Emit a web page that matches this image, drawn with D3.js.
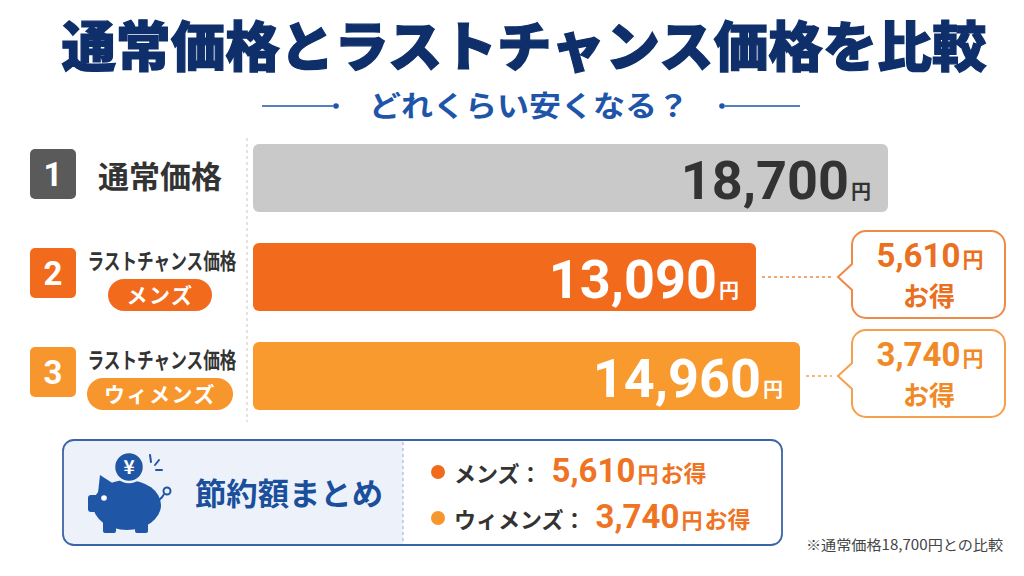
<!DOCTYPE html>
<html><head><meta charset="utf-8">
<script src="https://cdn.jsdelivr.net/npm/d3@7"></script>
<style>
html,body{margin:0;padding:0;background:#fff;}
svg{display:block;}
</style></head>
<body>
<svg id="chart" width="1024" height="576"></svg>
<script>
// ---- data ----
const ids = ["1", "2", "3"];
const categories = ["通常価格", "ラストチャンス価格", "ラストチャンス価格"];
const tags = [null, "メンズ", "ウィメンズ"];
const prices = [18700, 13090, 14960];
const savings = [null, 5610, 3740];
const summaryLabels = ["メンズ：", "ウィメンズ："];
const summaryValues = [5610, 3740];
const titleText = "通常価格とラストチャンス価格を比較";
const subtitleText = "どれくらい安くなる？";
const summaryTitle = "節約額まとめ";
const footnote = "※通常価格18,700円との比較";
const yenUnit = "円";
const gainText = "お得";

// ---- styles ----
const JP = "'Noto Sans CJK JP','Noto Sans',sans-serif";
const NUM = "Roboto,'Noto Sans',sans-serif";
const barColors = ["#c9c9c9", "#f26b1d", "#f89a2e"];
const badgeColors = ["#5a5a5a", "#f26b1d", "#f7962c"];
const labelColors = ["#333333", "#ffffff", "#ffffff"];
const calloutText = [null, "#ea6f1f", "#f08a26"];
const calloutStroke = [null, "#ef8a45", "#f5a04a"];
const fmt = d3.format(",");

const svg = d3.select("#chart");
svg.append("rect").attr("width", 1024).attr("height", 576).attr("fill", "#ffffff");

// ---- title ----
svg.append("text").attr("x", 524).attr("y", 67).attr("text-anchor", "middle")
  .attr("font-family", JP).attr("font-weight", 900).attr("font-size", 54)
  .attr("fill", "#0f2f6b").attr("stroke", "#0f2f6b").attr("stroke-width", 1.2)
  .attr("textLength", 925).attr("lengthAdjust", "spacingAndGlyphs")
  .text(titleText);

svg.append("text").attr("x", 529).attr("y", 117).attr("text-anchor", "middle")
  .attr("font-family", JP).attr("font-weight", 700).attr("font-size", 29)
  .attr("fill", "#1f55a8").attr("textLength", 320).attr("lengthAdjust", "spacingAndGlyphs")
  .text(subtitleText);
[[262, 333, 336], [800, 725, 722]].forEach(([a, b, d]) => {
  svg.append("line").attr("x1", a).attr("x2", b).attr("y1", 106).attr("y2", 106)
    .attr("stroke", "#1f55a8").attr("stroke-width", 1.5);
  svg.append("circle").attr("cx", d).attr("cy", 106).attr("r", 2.8).attr("fill", "#1f55a8");
});

// ---- scales ----
const y = d3.scalePoint().domain(ids).range([178, 376]);
const x = d3.scaleLinear().domain([0, d3.max(prices)]).range([448, 888]);
const barStart = 253, barH = 68;

// divider
svg.append("line").attr("x1", 247).attr("x2", 247).attr("y1", 138).attr("y2", 422)
  .attr("stroke", "#c8c8c8").attr("stroke-width", 1).attr("stroke-dasharray", "3,3");

const rows = ids.map((id, i) => ({id, i, cat: categories[i], tag: tags[i], price: prices[i], save: savings[i]}));

const g = svg.append("g");
const row = g.selectAll("g.row").data(rows).join("g").attr("class", "row");

// badges
row.append("rect").attr("x", 30).attr("y", d => y(d.id) - 29).attr("width", 46).attr("height", 50)
  .attr("rx", 5).attr("fill", d => badgeColors[d.i]);
row.append("text").attr("x", 53).attr("y", d => y(d.id) + 8).attr("text-anchor", "middle")
  .attr("font-family", NUM).attr("font-weight", 700).attr("font-size", 33).attr("fill", "#fff")
  .text(d => d.id);

// category labels
row.filter(d => !d.tag).append("text").attr("x", 98).attr("y", d => y(d.id) + 10)
  .attr("font-family", JP).attr("font-weight", 700).attr("font-size", 31).attr("fill", "#333")
  .attr("textLength", 124).attr("lengthAdjust", "spacingAndGlyphs").text(d => d.cat);
const tagged = row.filter(d => d.tag);
tagged.append("text").attr("x", 162).attr("y", d => y(d.id) - 8).attr("text-anchor", "middle")
  .attr("font-family", JP).attr("font-weight", 700).attr("font-size", 22).attr("fill", "#333")
  .attr("textLength", 149).attr("lengthAdjust", "spacingAndGlyphs").text(d => d.cat);
const pillW = d => d.tag.length * 21 + 41;
tagged.append("rect").attr("x", d => 160 - pillW(d) / 2).attr("y", d => y(d.id) + 2)
  .attr("width", pillW).attr("height", 32).attr("rx", 16).attr("fill", d => badgeColors[d.i]);
tagged.append("text").attr("x", 160).attr("y", d => y(d.id) + 26).attr("text-anchor", "middle")
  .attr("font-family", JP).attr("font-weight", 700).attr("font-size", 21).attr("fill", "#fff")
  .attr("letter-spacing", 1.5).text(d => d.tag);

// bars
row.append("rect").attr("x", barStart).attr("y", d => y(d.id) - barH / 2)
  .attr("width", d => x(d.price) - barStart).attr("height", barH).attr("rx", 6)
  .attr("fill", d => barColors[d.i]);
const vl = row.append("text").attr("x", d => x(d.price) - 17).attr("y", d => y(d.id) + 21)
  .attr("text-anchor", "end").attr("fill", d => labelColors[d.i]);
vl.append("tspan").attr("font-family", NUM).attr("font-weight", 700).attr("font-size", 54)
  .text(d => fmt(d.price));
vl.append("tspan").attr("font-family", JP).attr("font-weight", 700).attr("font-size", 20).attr("dx", 2)
  .text(yenUnit);

// callouts
const saved = row.filter(d => d.save);
saved.append("line").attr("x1", d => x(d.price) + 6).attr("x2", 832)
  .attr("y1", d => y(d.id)).attr("y2", d => y(d.id))
  .attr("stroke", d => calloutStroke[d.i]).attr("stroke-width", 1.5).attr("stroke-dasharray", "3,3");
function calloutPath(cy) {
  const l = 852, r = 1005, t = cy - 46, b = cy + 41, rr = 14;
  const p = d3.path();
  p.moveTo(l + rr, t);
  p.lineTo(r - rr, t); p.arcTo(r, t, r, t + rr, rr);
  p.lineTo(r, b - rr); p.arcTo(r, b, r - rr, b, rr);
  p.lineTo(l + rr, b); p.arcTo(l, b, l, b - rr, rr);
  p.lineTo(l, cy + 13); p.lineTo(l - 14, cy); p.lineTo(l, cy - 13);
  p.lineTo(l, t + rr); p.arcTo(l, t, l + rr, t, rr);
  p.closePath();
  return p.toString();
}
saved.append("path").attr("d", d => calloutPath(y(d.id))).attr("fill", "#fff")
  .attr("stroke", d => calloutStroke[d.i]).attr("stroke-width", 2);
const ct = saved.append("text").attr("x", 930).attr("y", d => y(d.id) - 10).attr("text-anchor", "middle")
  .attr("fill", d => calloutText[d.i]);
ct.append("tspan").attr("font-family", NUM).attr("font-weight", 700).attr("font-size", 33).text(d => fmt(d.save));
ct.append("tspan").attr("font-family", JP).attr("font-weight", 700).attr("font-size", 21).attr("dx", 2).text(yenUnit);
saved.append("text").attr("x", 929).attr("y", d => y(d.id) + 29).attr("text-anchor", "middle")
  .attr("font-family", JP).attr("font-weight", 700).attr("font-size", 26)
  .attr("fill", d => calloutText[d.i]).text(gainText);

// ---- summary box ----
const bx = 63, by = 440, bw = 719, bh = 105, div = 403;
svg.append("clipPath").attr("id", "boxclip").append("rect")
  .attr("x", bx).attr("y", by).attr("width", bw).attr("height", bh).attr("rx", 11);
svg.append("rect").attr("x", bx).attr("y", by).attr("width", bw).attr("height", bh).attr("rx", 11).attr("fill", "#fff");
svg.append("rect").attr("x", bx).attr("y", by).attr("width", div - bx).attr("height", bh)
  .attr("fill", "#edf2fa").attr("clip-path", "url(#boxclip)");
svg.append("line").attr("x1", div).attr("x2", div).attr("y1", by + 2).attr("y2", by + bh - 2)
  .attr("stroke", "#9aaac4").attr("stroke-width", 1).attr("stroke-dasharray", "3,3");
svg.append("rect").attr("x", bx).attr("y", by).attr("width", bw).attr("height", bh).attr("rx", 11)
  .attr("fill", "none").attr("stroke", "#3a64a8").attr("stroke-width", 1.8);

// piggy icon
const pig = svg.append("g").attr("fill", "#1f56a6");
pig.append("ellipse").attr("cx", 127).attr("cy", 505).attr("rx", 34).attr("ry", 25);
pig.append("path").attr("d", "M98,493 L100,475 L117,486 Z");
pig.append("rect").attr("x", 88).attr("y", 495).attr("width", 11).attr("height", 17).attr("rx", 3);
pig.append("rect").attr("x", 103).attr("y", 512).attr("width", 13).attr("height", 21).attr("rx", 2);
pig.append("rect").attr("x", 135).attr("y", 512).attr("width", 13).attr("height", 21).attr("rx", 2);
pig.append("circle").attr("cx", 167).attr("cy", 491).attr("r", 3.5).attr("fill", "none")
  .attr("stroke", "#1f56a6").attr("stroke-width", 2);
pig.append("path").attr("d", "M159,500 Q163,497 164,494").attr("fill", "none")
  .attr("stroke", "#1f56a6").attr("stroke-width", 2);
pig.append("circle").attr("cx", 104).attr("cy", 498).attr("r", 2.8).attr("fill", "#fff");
pig.append("circle").attr("cx", 129).attr("cy", 467).attr("r", 15).attr("stroke", "#edf2fa").attr("stroke-width", 2.5);
svg.append("text").attr("x", 129).attr("y", 474).attr("text-anchor", "middle")
  .attr("font-family", JP).attr("font-weight", 700).attr("font-size", 19).attr("fill", "#fff").text("¥");
[[150, 455, 151, 462], [155, 465, 159, 460], [156, 470, 162, 470]].forEach(([a, b, c, d]) =>
  svg.append("line").attr("x1", a).attr("y1", b).attr("x2", c).attr("y2", d)
    .attr("stroke", "#1f56a6").attr("stroke-width", 2).attr("stroke-linecap", "round"));

svg.append("text").attr("x", 195).attr("y", 505)
  .attr("font-family", JP).attr("font-weight", 700).attr("font-size", 31).attr("fill", "#1a4f9c")
  .attr("textLength", 188).attr("lengthAdjust", "spacingAndGlyphs").text(summaryTitle);

const sy = d3.scalePoint().domain([0, 1]).range([482, 528]);
const dotColors = ["#f26b1d", "#f7962c"];
summaryLabels.forEach((lab, i) => {
  svg.append("circle").attr("cx", 438).attr("cy", sy(i) - 10).attr("r", 7).attr("fill", dotColors[i]);
  const t = svg.append("text").attr("x", 454).attr("y", sy(i));
  t.append("tspan").attr("font-family", JP).attr("font-weight", 700).attr("font-size", 22)
    .attr("fill", "#333").text(lab);
  t.append("tspan").attr("font-family", NUM).attr("font-weight", 700).attr("font-size", 33)
    .attr("fill", "#ee7424").attr("dx", 10).text(fmt(summaryValues[i]));
  t.append("tspan").attr("font-family", JP).attr("font-weight", 700).attr("font-size", 21)
    .attr("fill", "#ee7424").attr("dx", 2).text(yenUnit);
  t.append("tspan").attr("font-family", JP).attr("font-weight", 700).attr("font-size", 23)
    .attr("fill", "#ee7424").attr("dx", 2).text(gainText);
});

svg.append("text").attr("x", 1003).attr("y", 550).attr("text-anchor", "end")
  .attr("font-family", JP).attr("font-size", 14).attr("fill", "#444")
  .attr("textLength", 197).attr("lengthAdjust", "spacingAndGlyphs").text(footnote);
</script>
</body></html>
